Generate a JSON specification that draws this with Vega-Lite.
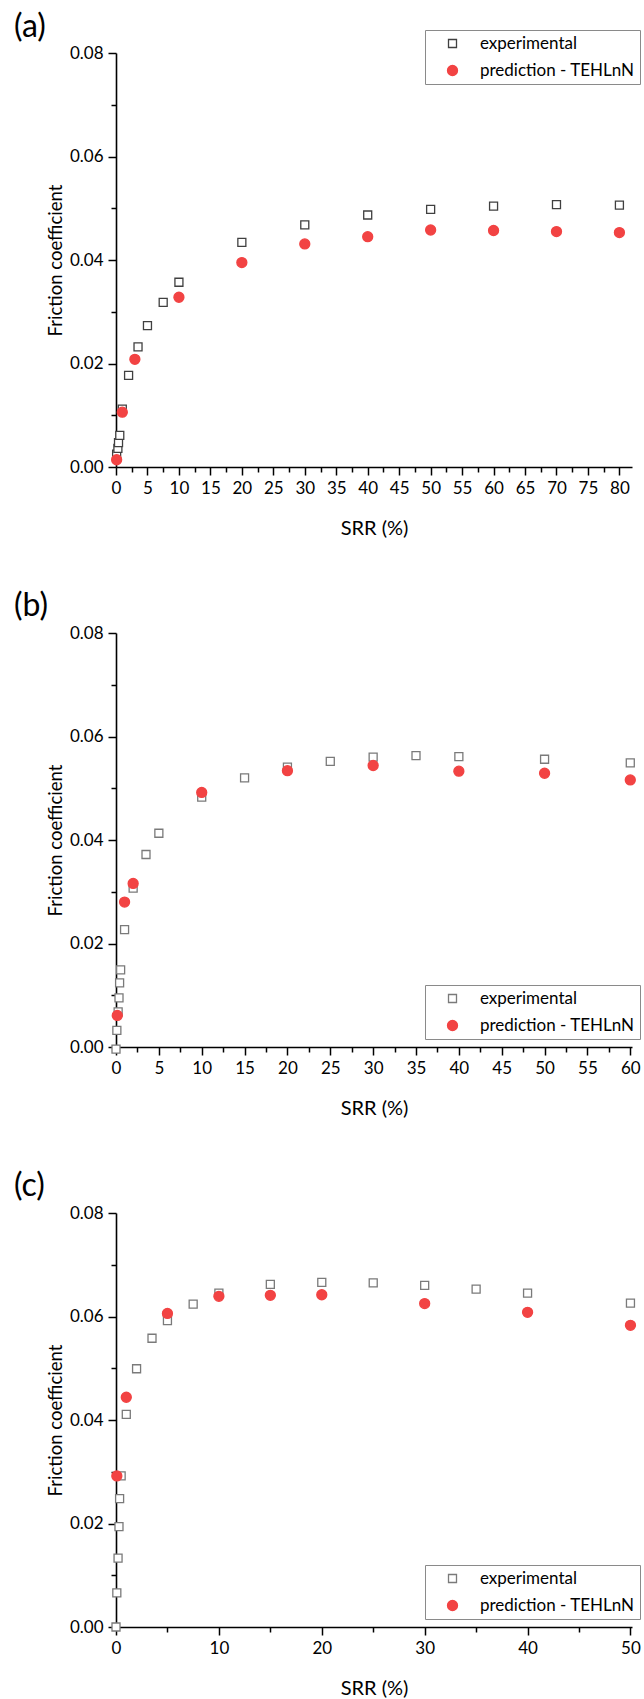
{
  "$schema": "https://vega.github.io/schema/vega-lite/v6.json",
  "padding": {"left": 14, "top": 10, "right": 0, "bottom": 0},
  "spacing": 52,
  "datasets": {
    "a": [
      {"srr": 0.1, "f": 0.0025, "series": "experimental"},
      {"srr": 0.3, "f": 0.0036, "series": "experimental"},
      {"srr": 0.4, "f": 0.0047, "series": "experimental"},
      {"srr": 0.6, "f": 0.0061, "series": "experimental"},
      {"srr": 1, "f": 0.0112, "series": "experimental"},
      {"srr": 2, "f": 0.0177, "series": "experimental"},
      {"srr": 3.5, "f": 0.0232, "series": "experimental"},
      {"srr": 5, "f": 0.0273, "series": "experimental"},
      {"srr": 7.5, "f": 0.0318, "series": "experimental"},
      {"srr": 10, "f": 0.0357, "series": "experimental"},
      {"srr": 20, "f": 0.0434, "series": "experimental"},
      {"srr": 30, "f": 0.0468, "series": "experimental"},
      {"srr": 40, "f": 0.0487, "series": "experimental"},
      {"srr": 50, "f": 0.0498, "series": "experimental"},
      {"srr": 60, "f": 0.0504, "series": "experimental"},
      {"srr": 70, "f": 0.0507, "series": "experimental"},
      {"srr": 80, "f": 0.0506, "series": "experimental"},
      {"srr": 0.1, "f": 0.0014, "series": "prediction - TEHLnN"},
      {"srr": 1, "f": 0.0106, "series": "prediction - TEHLnN"},
      {"srr": 3, "f": 0.0208, "series": "prediction - TEHLnN"},
      {"srr": 10, "f": 0.0328, "series": "prediction - TEHLnN"},
      {"srr": 20, "f": 0.0395, "series": "prediction - TEHLnN"},
      {"srr": 30, "f": 0.0431, "series": "prediction - TEHLnN"},
      {"srr": 40, "f": 0.0445, "series": "prediction - TEHLnN"},
      {"srr": 50, "f": 0.0458, "series": "prediction - TEHLnN"},
      {"srr": 60, "f": 0.0457, "series": "prediction - TEHLnN"},
      {"srr": 70, "f": 0.0455, "series": "prediction - TEHLnN"},
      {"srr": 80, "f": 0.0453, "series": "prediction - TEHLnN"}
    ],
    "b": [
      {"srr": 0, "f": -0.0004, "series": "experimental"},
      {"srr": 0.1, "f": 0.0032, "series": "experimental"},
      {"srr": 0.25, "f": 0.0068, "series": "experimental"},
      {"srr": 0.35, "f": 0.0095, "series": "experimental"},
      {"srr": 0.42, "f": 0.0124, "series": "experimental"},
      {"srr": 0.54, "f": 0.0149, "series": "experimental"},
      {"srr": 1, "f": 0.0227, "series": "experimental"},
      {"srr": 2, "f": 0.0307, "series": "experimental"},
      {"srr": 3.5, "f": 0.0372, "series": "experimental"},
      {"srr": 5, "f": 0.0413, "series": "experimental"},
      {"srr": 10, "f": 0.0483, "series": "experimental"},
      {"srr": 15, "f": 0.052, "series": "experimental"},
      {"srr": 20, "f": 0.0541, "series": "experimental"},
      {"srr": 25, "f": 0.0552, "series": "experimental"},
      {"srr": 30, "f": 0.056, "series": "experimental"},
      {"srr": 35, "f": 0.0563, "series": "experimental"},
      {"srr": 40, "f": 0.0561, "series": "experimental"},
      {"srr": 50, "f": 0.0556, "series": "experimental"},
      {"srr": 60, "f": 0.0549, "series": "experimental"},
      {"srr": 0.15, "f": 0.0061, "series": "prediction - TEHLnN"},
      {"srr": 1, "f": 0.028, "series": "prediction - TEHLnN"},
      {"srr": 2, "f": 0.0316, "series": "prediction - TEHLnN"},
      {"srr": 10, "f": 0.0492, "series": "prediction - TEHLnN"},
      {"srr": 20, "f": 0.0534, "series": "prediction - TEHLnN"},
      {"srr": 30, "f": 0.0544, "series": "prediction - TEHLnN"},
      {"srr": 40, "f": 0.0533, "series": "prediction - TEHLnN"},
      {"srr": 50, "f": 0.0529, "series": "prediction - TEHLnN"},
      {"srr": 60, "f": 0.0516, "series": "prediction - TEHLnN"}
    ],
    "c": [
      {"srr": 0, "f": 0.0, "series": "experimental"},
      {"srr": 0.08, "f": 0.0066, "series": "experimental"},
      {"srr": 0.2, "f": 0.0133, "series": "experimental"},
      {"srr": 0.29, "f": 0.0194, "series": "experimental"},
      {"srr": 0.35, "f": 0.0248, "series": "experimental"},
      {"srr": 0.5, "f": 0.0292, "series": "experimental"},
      {"srr": 1, "f": 0.0411, "series": "experimental"},
      {"srr": 2, "f": 0.0499, "series": "experimental"},
      {"srr": 3.5, "f": 0.0558, "series": "experimental"},
      {"srr": 5, "f": 0.0592, "series": "experimental"},
      {"srr": 7.5, "f": 0.0624, "series": "experimental"},
      {"srr": 10, "f": 0.0645, "series": "experimental"},
      {"srr": 15, "f": 0.0662, "series": "experimental"},
      {"srr": 20, "f": 0.0666, "series": "experimental"},
      {"srr": 25, "f": 0.0665, "series": "experimental"},
      {"srr": 30, "f": 0.066, "series": "experimental"},
      {"srr": 35, "f": 0.0653, "series": "experimental"},
      {"srr": 40, "f": 0.0645, "series": "experimental"},
      {"srr": 50, "f": 0.0626, "series": "experimental"},
      {"srr": 0.08, "f": 0.0292, "series": "prediction - TEHLnN"},
      {"srr": 1, "f": 0.0444, "series": "prediction - TEHLnN"},
      {"srr": 5, "f": 0.0606, "series": "prediction - TEHLnN"},
      {"srr": 10, "f": 0.0639, "series": "prediction - TEHLnN"},
      {"srr": 15, "f": 0.0641, "series": "prediction - TEHLnN"},
      {"srr": 20, "f": 0.0642, "series": "prediction - TEHLnN"},
      {"srr": 30, "f": 0.0625, "series": "prediction - TEHLnN"},
      {"srr": 40, "f": 0.0608, "series": "prediction - TEHLnN"},
      {"srr": 50, "f": 0.0583, "series": "prediction - TEHLnN"}
    ]
  },
  "resolve": {"scale": {"shape": "independent", "fill": "independent", "stroke": "independent", "size": "independent"}},
  "vconcat": [
    {
      "width": 516, "height": 414,
      "title": {"text": "(a)", "anchor": "start", "frame": "group", "dx": -102, "offset": -14},
      "data": {"name": "a"},
      "mark": {"type": "point", "filled": true, "strokeWidth": 1.3, "opacity": 1},
      "encoding": {
        "x": {"field": "srr", "type": "quantitative", "title": "SRR (%)",
              "scale": {"domain": [0, 82], "nice": false},
              "axis": {"values": [0,2.5,5,7.5,10,12.5,15,17.5,20,22.5,25,27.5,30,32.5,35,37.5,40,42.5,45,47.5,50,52.5,55,57.5,60,62.5,65,67.5,70,72.5,75,77.5,80],
                       "labelExpr": "datum.value % 5 === 0 ? datum.label : ''",
                       "tickSize": {"condition": {"test": "datum.value % 5 === 0", "value": 8}, "value": 5}}},
        "y": {"field": "f", "type": "quantitative", "title": "Friction coefficient",
              "scale": {"domain": [0, 0.08], "nice": false, "zero": false},
              "axis": {"values": [0,0.01,0.02,0.03,0.04,0.05,0.06,0.07,0.08],
                       "labelExpr": "round(datum.value*100) % 2 === 0 ? format(datum.value, '.2f') : ''",
                       "tickSize": {"condition": {"test": "round(datum.value*100) % 2 === 0", "value": 8}, "value": 5}}},
        "shape": {"field": "series", "type": "nominal", "title": null,
                  "scale": {"domain": ["experimental", "prediction - TEHLnN"], "range": ["square", "circle"]},
                  "legend": {"orient": "none", "legendX": 309, "legendY": -23}},
        "fill": {"field": "series", "type": "nominal", "title": null,
                 "scale": {"domain": ["experimental", "prediction - TEHLnN"], "range": ["white", "#f24343"]},
                 "legend": {"orient": "none", "legendX": 309, "legendY": -23}},
        "stroke": {"field": "series", "type": "nominal", "title": null,
                   "scale": {"domain": ["experimental", "prediction - TEHLnN"], "range": ["#404040", "#f24343"]},
                   "legend": {"orient": "none", "legendX": 309, "legendY": -23}},
        "size": {"field": "series", "type": "nominal", "title": null,
                 "scale": {"domain": ["experimental", "prediction - TEHLnN"], "range": [64, 100]},
                 "legend": {"orient": "none", "legendX": 309, "legendY": -23}}
      }
    },
    {
      "width": 516, "height": 414,
      "title": {"text": "(b)", "anchor": "start", "frame": "group", "dx": -102, "offset": 1},
      "data": {"name": "b"},
      "mark": {"type": "point", "filled": true, "strokeWidth": 1.3, "opacity": 1},
      "encoding": {
        "x": {"field": "srr", "type": "quantitative", "title": "SRR (%)",
              "scale": {"domain": [0, 60.2], "nice": false},
              "axis": {"values": [0,2.5,5,7.5,10,12.5,15,17.5,20,22.5,25,27.5,30,32.5,35,37.5,40,42.5,45,47.5,50,52.5,55,57.5,60],
                       "labelExpr": "datum.value % 5 === 0 ? datum.label : ''",
                       "tickSize": {"condition": {"test": "datum.value % 5 === 0", "value": 8}, "value": 5}}},
        "y": {"field": "f", "type": "quantitative", "title": "Friction coefficient",
              "scale": {"domain": [0, 0.08], "nice": false, "zero": false},
              "axis": {"values": [0,0.01,0.02,0.03,0.04,0.05,0.06,0.07,0.08],
                       "labelExpr": "round(datum.value*100) % 2 === 0 ? format(datum.value, '.2f') : ''",
                       "tickSize": {"condition": {"test": "round(datum.value*100) % 2 === 0", "value": 8}, "value": 5}}},
        "shape": {"field": "series", "type": "nominal", "title": null,
                  "scale": {"domain": ["experimental", "prediction - TEHLnN"], "range": ["square", "circle"]},
                  "legend": {"orient": "none", "legendX": 309, "legendY": 352}},
        "fill": {"field": "series", "type": "nominal", "title": null,
                 "scale": {"domain": ["experimental", "prediction - TEHLnN"], "range": ["white", "#f24343"]},
                 "legend": {"orient": "none", "legendX": 309, "legendY": 352}},
        "stroke": {"field": "series", "type": "nominal", "title": null,
                   "scale": {"domain": ["experimental", "prediction - TEHLnN"], "range": ["#7a7a7a", "#f24343"]},
                   "legend": {"orient": "none", "legendX": 309, "legendY": 352}},
        "size": {"field": "series", "type": "nominal", "title": null,
                 "scale": {"domain": ["experimental", "prediction - TEHLnN"], "range": [64, 100]},
                 "legend": {"orient": "none", "legendX": 309, "legendY": 352}}
      }
    },
    {
      "width": 516, "height": 414,
      "title": {"text": "(c)", "anchor": "start", "frame": "group", "dx": -102, "offset": 1},
      "data": {"name": "c"},
      "mark": {"type": "point", "filled": true, "strokeWidth": 1.3, "opacity": 1},
      "encoding": {
        "x": {"field": "srr", "type": "quantitative", "title": "SRR (%)",
              "scale": {"domain": [0, 50.15], "nice": false},
              "axis": {"values": [0,5,10,15,20,25,30,35,40,45,50],
                       "labelExpr": "datum.value % 10 === 0 ? datum.label : ''",
                       "tickSize": {"condition": {"test": "datum.value % 10 === 0", "value": 8}, "value": 5}}},
        "y": {"field": "f", "type": "quantitative", "title": "Friction coefficient",
              "scale": {"domain": [0, 0.08], "nice": false, "zero": false},
              "axis": {"values": [0,0.01,0.02,0.03,0.04,0.05,0.06,0.07,0.08],
                       "labelExpr": "round(datum.value*100) % 2 === 0 ? format(datum.value, '.2f') : ''",
                       "tickSize": {"condition": {"test": "round(datum.value*100) % 2 === 0", "value": 8}, "value": 5}}},
        "shape": {"field": "series", "type": "nominal", "title": null,
                  "scale": {"domain": ["experimental", "prediction - TEHLnN"], "range": ["square", "circle"]},
                  "legend": {"orient": "none", "legendX": 309, "legendY": 352}},
        "fill": {"field": "series", "type": "nominal", "title": null,
                 "scale": {"domain": ["experimental", "prediction - TEHLnN"], "range": ["white", "#f24343"]},
                 "legend": {"orient": "none", "legendX": 309, "legendY": 352}},
        "stroke": {"field": "series", "type": "nominal", "title": null,
                   "scale": {"domain": ["experimental", "prediction - TEHLnN"], "range": ["#7a7a7a", "#f24343"]},
                   "legend": {"orient": "none", "legendX": 309, "legendY": 352}},
        "size": {"field": "series", "type": "nominal", "title": null,
                 "scale": {"domain": ["experimental", "prediction - TEHLnN"], "range": [64, 100]},
                 "legend": {"orient": "none", "legendX": 309, "legendY": 352}}
      }
    }
  ],
  "config": {
    "view": {"stroke": null},
    "font": "Lato",
    "title": {"font": "Lato", "fontSize": 32, "fontWeight": "normal", "color": "black"},
    "axis": {"domainColor": "black", "domainWidth": 1.6, "tickColor": "black", "tickWidth": 1.5,
             "labelFont": "Lato", "labelFontSize": 17, "labelColor": "black", "labelPadding": 5,
             "labelFlush": false, "labelOverlap": false, "grid": false,
             "titleFont": "Lato", "titleFontWeight": "normal", "titleColor": "black"},
    "axisX": {"titlePadding": 22, "titleFontSize": 20},
    "axisY": {"titlePadding": 4, "titleFontSize": 18.5},
    "legend": {"strokeColor": "#8a8a8a", "strokeWidth": 1, "fillColor": "white", "padding": 5,
               "labelFont": "Lato", "labelFontSize": 17, "labelColor": "black", "labelOffset": 19,
               "labelLimit": 400, "symbolOffset": 14, "rowPadding": 9, "symbolStrokeWidth": 1.3}
  }
}
